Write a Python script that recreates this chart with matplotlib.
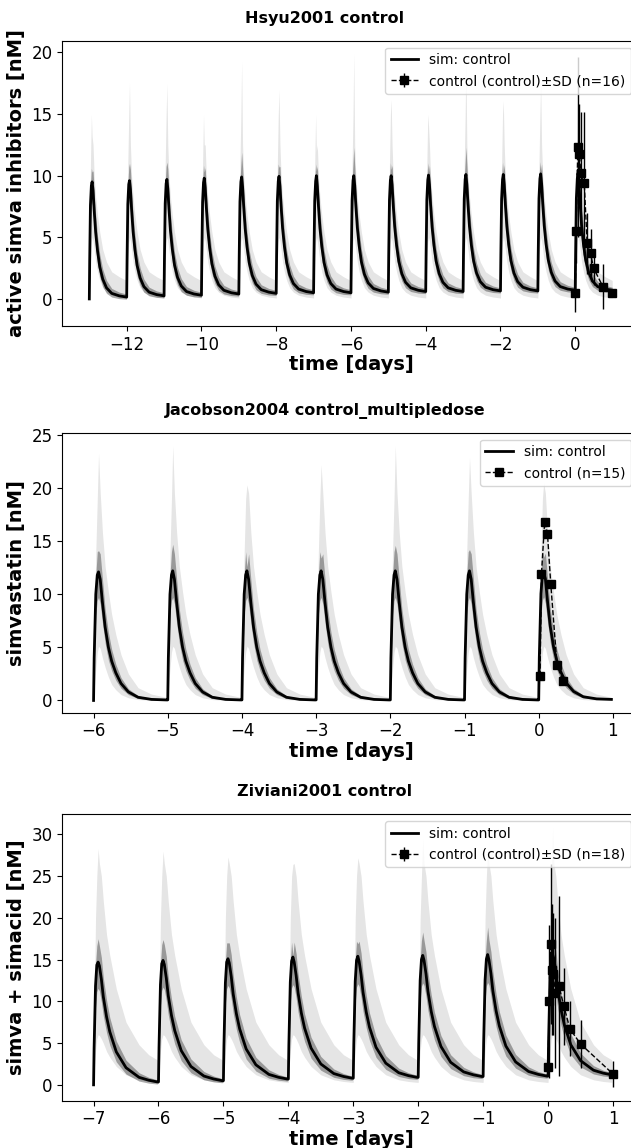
import numpy as np
import matplotlib
matplotlib.use("Agg")
import matplotlib.pyplot as plt
from matplotlib.transforms import Bbox

# ---------------- Hsyu2001 control (active simva inhibitors) ----------------
hsyu_doses = [-13, -12, -11, -10, -9, -8, -7, -6, -5, -4, -3, -2, -1, 0]
hsyu_trough = [0.0, 0.15, 0.25, 0.3, 0.4, 0.45, 0.5, 0.5, 0.55, 0.6, 0.6, 0.65, 0.65, 0.7, 0.7]
hsyu_mean_peak = [9.5, 9.6, 9.7, 9.8, 9.9, 9.95, 10.0, 10.0, 10.0, 10.05, 10.1, 10.1, 10.15, 10.2]
hsyu_sd_peak = [10.3, 11.0, 11.1, 10.3, 11.9, 10.7, 10.4, 12.3, 10.5, 10.3, 12.3, 10.3, 10.4, 11.5]
hsyu_max_peak = [13.2, 17.6, 17.5, 12.5, 19.3, 17.0, 12.0, 20.0, 16.2, 14.1, 19.3, 16.1, 17.6, 19.6]
# one dosing interval (days after dose)
hsyu_off = [0, 0.01, 0.03, 0.055, 0.075, 0.1, 0.13, 0.17, 0.22, 0.28, 0.36, 0.46, 0.6, 0.8, 0.99]
hsyu_mean = [0.5, 3.5, 8.0, 9.6, 9.9, 9.2, 7.6, 5.8, 4.3, 3.0, 2.0, 1.3, 0.85, 0.65, 0.55]
hsyu_sd_hi = [0.65, 4.6, 9.6, 11.0, 11.3, 10.8, 9.1, 7.2, 5.5, 4.0, 2.8, 1.9, 1.25, 0.95, 0.8]
hsyu_sd_lo = [0.4, 2.5, 6.5, 7.9, 8.3, 7.6, 6.1, 4.5, 3.2, 2.2, 1.4, 0.85, 0.55, 0.42, 0.38]
hsyu_max = [1.4, 5.0, 11.0, 15.0, 17.0, 12.5, 10.0, 8.3, 6.8, 5.4, 4.0, 3.0, 2.2, 1.8, 1.5]
hsyu_min = [0.05, 1.0, 3.0, 4.6, 5.0, 4.7, 4.0, 3.0, 2.2, 1.5, 0.9, 0.55, 0.3, 0.15, 0.08]
hsyu_t = [0, 0.02, 0.07, 0.11, 0.15, 0.24, 0.32, 0.41, 0.49, 0.74, 0.99]
hsyu_y = [0.5, 5.5, 12.3, 11.8, 10.2, 9.4, 4.5, 3.7, 2.5, 1.0, 0.5]
hsyu_sd = [1.6, 2.6, 7.3, 4.0, 5.0, 5.8, 2.5, 2.0, 1.4, 1.8, 0.3]
hsyu_ticks = [-12, -10, -8, -6, -4, -2, 0]

# ---------------- Jacobson2004 control_multipledose (simvastatin) ----------------
jac_doses = [-6, -5, -4, -3, -2, -1, 0]
jac_trough = [0.0, 0.05, 0.05, 0.05, 0.05, 0.05, 0.05, 0.1]
jac_mean_peak = [12.1, 12.2, 12.2, 12.2, 12.2, 12.2, 12.0]
jac_sd_peak = [14.1, 14.7, 12.6, 13.4, 14.6, 14.2, 13.5]
jac_max_peak = [23.3, 24.0, 20.3, 22.2, 24.0, 22.9, 20.5]
jac_off = [0, 0.008, 0.03, 0.05, 0.067, 0.09, 0.12, 0.156, 0.2, 0.244, 0.3, 0.37, 0.47, 0.6, 0.78, 0.98]
jac_mean = [0.05, 4.0, 10.0, 11.8, 12.1, 11.4, 9.2, 6.9, 5.0, 3.7, 2.6, 1.6, 0.8, 0.3, 0.1, 0.05]
jac_sd_hi = [0.06, 4.8, 11.8, 14.0, 14.5, 13.8, 11.4, 8.6, 6.4, 4.8, 3.4, 2.15, 1.1, 0.45, 0.16, 0.07]
jac_sd_lo = [0.04, 3.0, 8.1, 9.4, 9.7, 9.1, 7.3, 5.4, 3.8, 2.8, 1.9, 1.15, 0.55, 0.18, 0.06, 0.03]
jac_max = [0.1, 6.0, 14.0, 19.0, 23.5, 19.5, 15.8, 12.6, 10.2, 8.1, 6.2, 4.3, 2.5, 1.2, 0.6, 0.3]
jac_min = [0.0, 1.0, 3.0, 4.5, 5.1, 4.9, 4.0, 3.1, 2.2, 1.5, 1.0, 0.55, 0.25, 0.08, 0.02, 0.0]
jac_t = [0.018, 0.037, 0.08, 0.118, 0.162, 0.247, 0.328]
jac_y = [2.3, 11.9, 16.8, 15.7, 11.0, 3.3, 1.8]
jac_ticks = [-6, -5, -4, -3, -2, -1, 0, 1]

# ---------------- Ziviani2001 control (simva + simacid) ----------------
ziv_doses = [-7, -6, -5, -4, -3, -2, -1, 0]
ziv_trough = [0.0, 0.35, 0.5, 0.7, 0.8, 0.9, 1.0, 1.05, 1.2]
ziv_mean_peak = [14.7, 14.9, 15.1, 15.3, 15.4, 15.5, 15.6, 15.6]
ziv_sd_peak = [17.5, 17.4, 17.0, 15.5, 16.9, 18.3, 18.9, 17.5]
ziv_max_peak = [28.3, 28.0, 27.3, 26.4, 27.2, 29.5, 28.3, 30.8]
ziv_off = [0, 0.008, 0.03, 0.05, 0.07, 0.09, 0.12, 0.15, 0.2, 0.25, 0.35, 0.5, 0.7, 0.85, 0.98]
ziv_mean = [0.9, 5.0, 12.5, 15.0, 15.4, 14.9, 13.3, 11.2, 8.8, 7.0, 4.6, 2.7, 1.55, 1.2, 1.0]
ziv_sd_hi = [1.0, 6.2, 15.0, 17.3, 17.5, 17.3, 15.9, 13.5, 10.8, 8.7, 5.9, 3.6, 2.1, 1.55, 1.25]
ziv_sd_lo = [0.8, 3.8, 10.0, 11.8, 12.2, 11.9, 10.6, 8.9, 6.9, 5.4, 3.4, 1.95, 1.1, 0.85, 0.75]
ziv_max = [2.8, 8.0, 20.0, 25.0, 28.0, 26.5, 25.0, 22.0, 18.0, 15.5, 11.5, 7.5, 4.8, 3.6, 3.0]
ziv_min = [0.3, 1.5, 4.0, 5.5, 6.0, 5.9, 5.5, 5.0, 4.0, 3.3, 2.2, 1.2, 0.6, 0.4, 0.3]
ziv_t = [0, 0.02, 0.041, 0.056, 0.08, 0.11, 0.168, 0.245, 0.337, 0.5, 1.0]
ziv_y = [2.1, 10.0, 16.9, 13.8, 13.3, 11.0, 11.8, 9.4, 6.7, 4.9, 1.3]
ziv_sd = [1.0, 9.2, 9.6, 7.8, 7.3, 9.0, 10.8, 4.6, 3.3, 2.9, 1.6]
ziv_ticks = [-7, -6, -5, -4, -3, -2, -1, 0, 1]


def build_series(doses, offsets, shape, ref_shape, trough=None, peaks=None):
    """Repeat one read dosing interval for every dose (with per-dose troughs/peaks)."""
    shape = np.asarray(shape, float)
    ref = np.full(len(shape), ref_shape[-1], dtype=float)
    ref[0] = ref_shape[0]
    ipk = int(np.argmax(ref_shape))
    t, y = [], []
    for k, d in enumerate(doses):
        vals = shape.copy()
        if trough is not None:
            base = np.full(len(shape), trough[k + 1], dtype=float)
            base[0] = trough[k]
            vals = vals - ref + base
        if peaks is not None:
            vals[ipk] = peaks[k]
        t.extend(d + np.asarray(offsets, float))
        y.extend(vals)
    return np.array(t), np.array(y)


def draw_panel(ax, doses, off, trough, mean, sd_lo, sd_hi, vmin, vmax,
               mean_pk, sd_pk, max_pk):
    t, y_mean = build_series(doses, off, mean, mean, trough, mean_pk)
    _, y_hi = build_series(doses, off, sd_hi, mean, trough, sd_pk)
    _, y_lo = build_series(doses, off, sd_lo, mean, trough)
    _, y_max = build_series(doses, off, vmax, mean, None, max_pk)
    _, y_min = build_series(doses, off, vmin, mean)
    ax.fill_between(t, y_min, y_max, color="black", alpha=0.1, lw=0)
    ax.fill_between(t, y_lo, y_hi, color="black", alpha=0.33, lw=0)
    line, = ax.plot(t, y_mean, color="black", lw=2, label="sim: control")
    return line


fig = plt.figure(figsize=(6.31, 11.48), dpi=100)
# axes run a little past the right edge of the picture (as in the reference)
left, width = 0.0989, 0.9312
ax1 = fig.add_axes([left, 0.716, width, 0.2485])
ax2 = fig.add_axes([left, 0.3792, width, 0.2439])
ax3 = fig.add_axes([left, 0.0412, width, 0.2495])

# panel 1
draw_panel(ax1, hsyu_doses, hsyu_off, hsyu_trough, hsyu_mean, hsyu_sd_lo, hsyu_sd_hi,
           hsyu_min, hsyu_max, hsyu_mean_peak, hsyu_sd_peak, hsyu_max_peak)
ax1.errorbar(hsyu_t, hsyu_y, yerr=hsyu_sd, color="black", ls="--", lw=1, marker="s",
             ms=6, elinewidth=1, label="control (control)±SD (n=16)")
ax1.set_xlim(-13.72, 2.0)
ax1.set_ylim(-2.2, 20.95)
ax1.set_xticks(hsyu_ticks)
ax1.set_ylabel("active simva inhibitors [nM]")
ax1.set_title("Hsyu2001 control")

# panel 2
draw_panel(ax2, jac_doses, jac_off, jac_trough, jac_mean, jac_sd_lo, jac_sd_hi,
           jac_min, jac_max, jac_mean_peak, jac_sd_peak, jac_max_peak)
ax2.plot(jac_t, jac_y, color="black", ls="--", lw=1, marker="s", ms=6,
         label="control (n=15)")
ax2.set_xlim(-6.42, 1.5)
ax2.set_ylim(-1.15, 25.2)
ax2.set_xticks(jac_ticks)
ax2.set_ylabel("simvastatin [nM]")
ax2.set_title("Jacobson2004 control_multipledose")

# panel 3
draw_panel(ax3, ziv_doses, ziv_off, ziv_trough, ziv_mean, ziv_sd_lo, ziv_sd_hi,
           ziv_min, ziv_max, ziv_mean_peak, ziv_sd_peak, ziv_max_peak)
ax3.errorbar(ziv_t, ziv_y, yerr=ziv_sd, color="black", ls="--", lw=1, marker="s",
             ms=6, elinewidth=1, label="control (control)±SD (n=18)")
ax3.set_xlim(-7.48, 1.57)
ax3.set_ylim(-1.9, 32.4)
ax3.set_xticks(ziv_ticks)
ax3.set_ylabel("simva + simacid [nM]")
ax3.set_title("Ziviani2001 control")

for ax in (ax1, ax2, ax3):
    ax.set_xlabel("time [days]", fontsize=14, fontweight="bold", labelpad=1, x=0.492)
    ax.set_ylabel(ax.get_ylabel(), fontsize=14, fontweight="bold")
    ax.set_title(ax.get_title(), fontsize=11.5, fontweight="bold", pad=13, x=0.447)
    ax.tick_params(labelsize=12)
    ax.legend(loc="upper right", fontsize=10, bbox_to_anchor=(0.98, 1.0))

# keep the exact canvas (no tight cropping)
fig.savefig("out.png", dpi=100, bbox_inches=Bbox([[0, 0], [6.31, 11.48]]))
